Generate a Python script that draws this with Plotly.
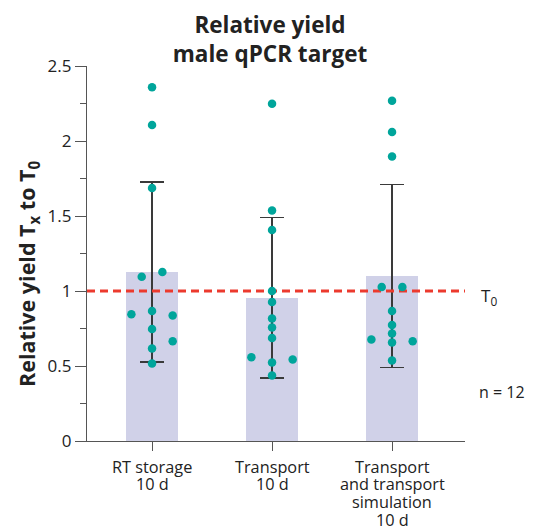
import plotly.graph_objects as go

# ---- data ----
categories = ["RT storage<br>10 d", "Transport<br>10 d",
              "Transport<br>and transport<br>simulation<br>10 d"]
means = [1.127, 0.955, 1.10]
sds = [0.60, 0.535, 0.61]

g1_values = [2.358, 2.107, 1.687, 1.095, 1.127, 0.845, 0.867, 0.836, 0.747, 0.665, 0.616, 0.516]
g1_slots = [0, 0, 0, -1, 1, -2, 0, 2, 0, 2, 0, 0]
g2_values = [2.249, 1.536, 1.407, 1.0, 0.927, 0.816, 0.756, 0.687, 0.558, 0.544, 0.524, 0.436]
g2_slots = [0, 0, 0, 0, 0, 0, 0, 0, -2, 2, 0, 0]
g3_values = [2.269, 2.06, 1.896, 1.027, 1.027, 0.867, 0.773, 0.716, 0.676, 0.656, 0.665, 0.536]
g3_slots = [0, 0, 0, -1, 1, 0, 0, 0, -2, 0, 2, 0]

reference_value = 1.0
n_label = "n = 12"
y_ticks = [0, 0.5, 1, 1.5, 2, 2.5]

# ---- style ----
FONT = "Open Sans"
TEXT = "#222222"
BAR = "#d0d1e8"
DOT = "#00a59b"
RED = "#ec3a2e"
SLOT = 0.086
XR = [-0.542, 2.608]

fig = go.Figure()

fig.add_trace(go.Bar(
    x=list(range(len(categories))), y=means, width=0.44,
    marker=dict(color=BAR, line=dict(width=0)),
    error_y=dict(type="data", array=sds, visible=True, color="#3a3a3a",
                 thickness=1.3, width=12),
    showlegend=False, hoverinfo="skip"))

fig.add_trace(go.Scatter(
    x=[XR[0], 2.65], y=[reference_value, reference_value], mode="lines",
    line=dict(color=RED, width=3.2, dash="8px,5px"),
    cliponaxis=False, showlegend=False, hoverinfo="skip"))

for gi, (vals, slots) in enumerate([(g1_values, g1_slots),
                                    (g2_values, g2_slots),
                                    (g3_values, g3_slots)]):
    fig.add_trace(go.Scatter(
        x=[gi + s * SLOT for s in slots], y=vals, mode="markers",
        marker=dict(color=DOT, size=8.5, line=dict(width=0)),
        cliponaxis=False, showlegend=False))

fig.update_layout(
    width=534, height=528,
    margin=dict(l=87, r=69, t=66, b=87),
    paper_bgcolor="white", plot_bgcolor="white",
    font=dict(family=FONT, color=TEXT, size=16),
    title=dict(text="<b>Relative yield<br>male qPCR target</b>",
               x=270 / 534, xanchor="center", y=1 - 33 / 528, yanchor="middle",
               font=dict(size=22.5, family=FONT, color=TEXT)),
    xaxis=dict(range=XR, tickvals=list(range(len(categories))), showticklabels=False,
               showline=True, linecolor="#555555", linewidth=1.3,
               ticks="outside", ticklen=9, tickcolor="#555555", tickwidth=1.3,
               showgrid=False, zeroline=False, automargin=False),
    yaxis=dict(range=[0, 2.5], tickvals=y_ticks,
               showline=True, linecolor="#555555", linewidth=1.3,
               ticks="outside", ticklen=11, tickcolor="#555555", tickwidth=1.3,
               minor=dict(dtick=0.25, ticks="outside", ticklen=6,
                          tickcolor="#555555", tickwidth=1.3, showgrid=False),
               showgrid=False, zeroline=False, automargin=False,
               tickfont=dict(size=17, family=FONT, color=TEXT)),
    bargap=0,
)

# category labels (one annotation per line for tighter line spacing)
for i, cat in enumerate(categories):
    for j, line in enumerate(cat.split("<br>")):
        fig.add_annotation(text=line, x=i, y=0, xref="x", yref="y",
                           yshift=-(25.5 + 17.8 * j), showarrow=False,
                           xanchor="center", yanchor="middle",
                           font=dict(size=16.3, family=FONT, color=TEXT))

fig.add_annotation(text="<b>Relative yield T<sub>x</sub> to T<sub>0</sub></b>",
                   xref="paper", yref="paper", x=(28 - 87) / 378, y=(441 - 274) / 375,
                   textangle=-90, showarrow=False, xanchor="center", yanchor="middle",
                   font=dict(size=21.5, family=FONT, color=TEXT))
fig.add_annotation(text="T<sub>0</sub>", xref="paper", yref="y",
                   x=(479 - 87) / 378, y=reference_value, yshift=-5,
                   showarrow=False, xanchor="left", yanchor="middle",
                   font=dict(size=17, family=FONT, color=TEXT))
fig.add_annotation(text=n_label, xref="paper", yref="paper",
                   x=(477 - 87) / 378, y=(441 - 392) / 375,
                   showarrow=False, xanchor="left", yanchor="middle",
                   font=dict(size=16, family=FONT, color=TEXT))

fig.write_html("out.html", config={"displayModeBar": False},
               post_script="document.body.style.margin='0';document.body.style.overflow='hidden';")
